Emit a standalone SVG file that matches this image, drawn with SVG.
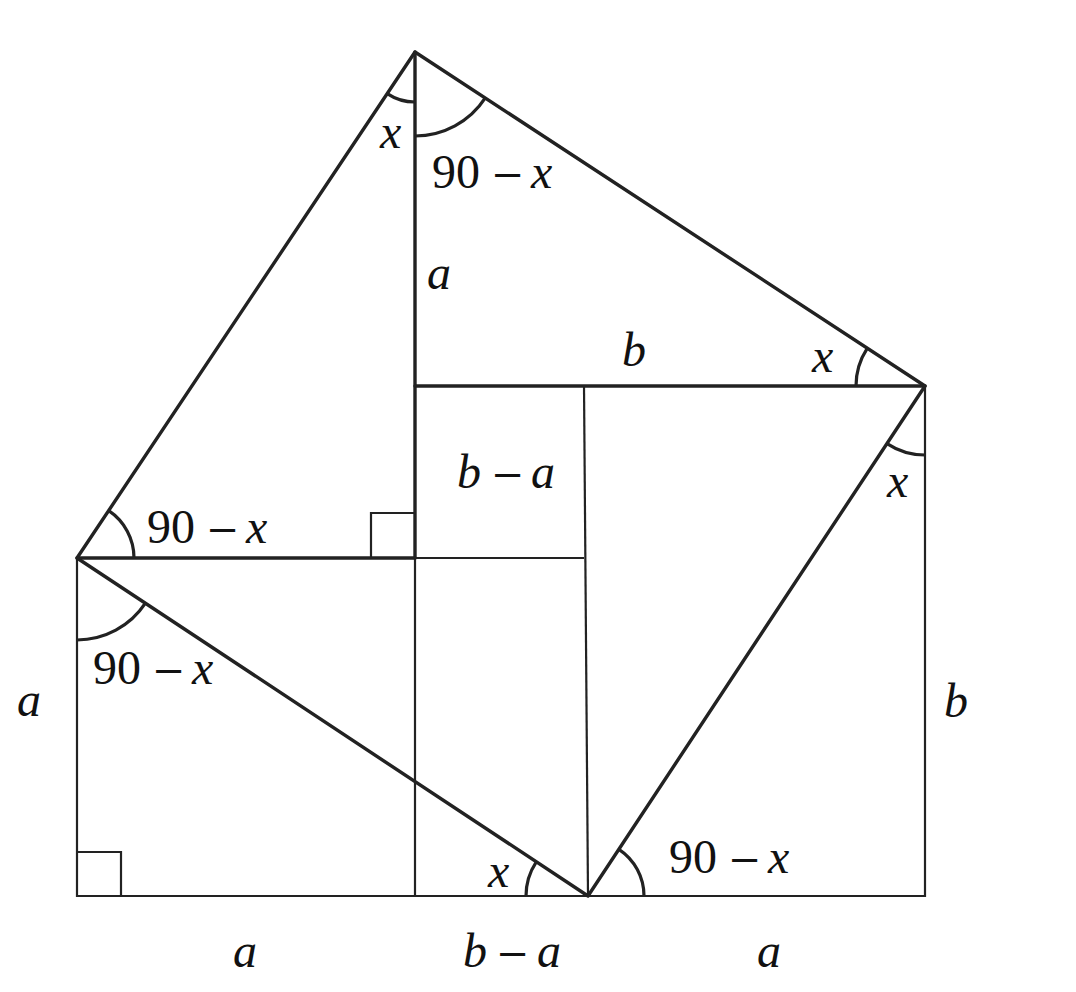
<svg xmlns="http://www.w3.org/2000/svg" width="1076" height="992" viewBox="0 0 1076 992">
<style>
.thick{stroke:#222;stroke-width:3.4;fill:none;stroke-linecap:round;stroke-linejoin:round}
.thin{stroke:#222;stroke-width:2.2;fill:none;stroke-linejoin:miter}
.arc{stroke:#222;stroke-width:3.2;fill:none}
text{font-family:"Liberation Serif","Times New Roman",serif;font-size:48px;fill:#111}
.i{font-style:italic}
.m{font-family:"DejaVu Serif",serif;font-size:40px}
</style>
<rect width="1076" height="992" fill="#fff"/>
<g id="connectors">
<polyline class="thin" points="77,558 77,896 925,896 925,386"/>
<line class="thin" x1="415" y1="558" x2="415" y2="896"/>
<line class="thin" x1="584" y1="386" x2="588" y2="896"/>
<line class="thin" x1="415" y1="558" x2="584" y2="558"/>
<polyline class="thin" points="371,558 371,513 415,513"/>
<polyline class="thin" points="77,852 121,852 121,896"/>
<polygon class="thick" points="415,52 925,386 588,896 77,558"/>
<line class="thick" x1="415" y1="52" x2="415" y2="558"/>
<line class="thick" x1="415" y1="386" x2="925" y2="386"/>
<line class="thick" x1="77" y1="558" x2="415" y2="558"/>
</g>
<g id="angles">
<path class="arc" d="M387.2 93.6 A50 50 0 0 0 415 102"/>
<path class="arc" d="M415 136 A84 84 0 0 0 485.3 97.9"/>
<path class="arc" d="M856 386 A69 69 0 0 1 867.2 348.3"/>
<path class="arc" d="M887 443.6 A69 69 0 0 0 925 455"/>
<path class="arc" d="M134 558 A57 57 0 0 0 108.7 510.6"/>
<path class="arc" d="M77 640 A82 82 0 0 0 145.4 603.2"/>
<path class="arc" d="M526 896 A62 62 0 0 1 536.3 861.8"/>
<path class="arc" d="M644 896 A56 56 0 0 0 618.9 849.3"/>
</g>
<g id="labels">
<text class="i" x="380" y="148">x</text>
<text y="188"><tspan x="432">90</tspan><tspan class="m" x="491">−</tspan><tspan class="i" x="531">x</tspan></text>
<text class="i" x="427" y="289">a</text>
<text class="i" x="622" y="366">b</text>
<text class="i" x="812" y="372">x</text>
<text y="488"><tspan class="i" x="457">b</tspan><tspan class="m" x="491">−</tspan><tspan class="i" x="531">a</tspan></text>
<text class="i" x="887" y="497">x</text>
<text y="543"><tspan x="147">90</tspan><tspan class="m" x="206">−</tspan><tspan class="i" x="246">x</tspan></text>
<text y="684"><tspan x="93">90</tspan><tspan class="m" x="152">−</tspan><tspan class="i" x="192">x</tspan></text>
<text class="i" x="17" y="716">a</text>
<text class="i" x="944" y="717">b</text>
<text class="i" x="488" y="887">x</text>
<text y="873"><tspan x="669">90</tspan><tspan class="m" x="728">−</tspan><tspan class="i" x="768">x</tspan></text>
<text class="i" x="233" y="967">a</text>
<text y="967"><tspan class="i" x="463">b</tspan><tspan class="m" x="496">−</tspan><tspan class="i" x="537">a</tspan></text>
<text class="i" x="757" y="967">a</text>
</g>
</svg>
